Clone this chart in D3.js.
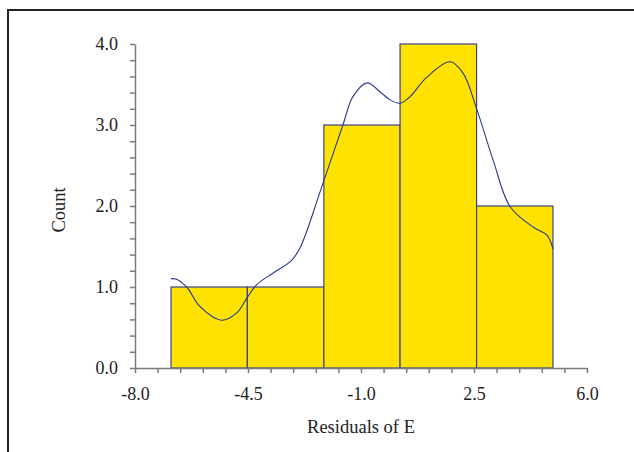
<!DOCTYPE html>
<html>
<head>
<meta charset="utf-8">
<script src="https://cdn.jsdelivr.net/npm/d3@7"></script>
<style>
  body { margin: 0; background: #fff; }
  svg { display: block; }
</style>
</head>
<body>
<div class="container"></div>
<script>
const WIDTH = 634;
const HEIGHT = 452;
const FONT = '"Liberation Serif", "Times New Roman", serif';

// histogram bins (edges and counts)
var binEdges = [-6.885, -4.52, -2.15, 0.21, 2.58, 4.945];
var binCounts = [1, 1, 3, 4, 2];

// density curve
var curveX = [-6.885, -6.74, -6.40, -5.99, -5.32, -4.85, -4.54, -4.23, -3.73, -3.15, -2.89,
              -2.18, -1.56, -1.25, -0.81, -0.41, -0.10, 0.21, 0.52, 1.04, 1.76, 2.16,
              2.59, 3.09, 3.62, 4.33, 4.76, 4.945];
var curveY = [1.10, 1.10, 1.00, 0.76, 0.59, 0.68, 0.86, 1.03, 1.17, 1.33, 1.48,
              2.28, 3.00, 3.35, 3.52, 3.41, 3.31, 3.27, 3.35, 3.59, 3.78, 3.64,
              3.19, 2.57, 1.99, 1.74, 1.64, 1.47];

var xTicks = [-8.0, -4.5, -1.0, 2.5, 6.0];
var yTicks = [0.0, 1.0, 2.0, 3.0, 4.0];

var svg = d3.select(".container")
    .append("svg")
    .attr("width", WIDTH)
    .attr("height", HEIGHT);

// outer frame
svg.append("rect")
    .attr("x", 8).attr("y", 10)
    .attr("width", WIDTH).attr("height", HEIGHT)
    .attr("fill", "none")
    .attr("stroke", "#222")
    .attr("stroke-width", 2);

var x = d3.scaleLinear().domain([-8, 6]).range([135, 587]);
var y = d3.scaleLinear().domain([0, 4]).range([368, 44]);

var bins = binCounts.map(function(c, i) {
    return {x0: binEdges[i], x1: binEdges[i + 1], count: c};
});

svg.selectAll(".bar")
    .data(bins)
    .enter().append("rect")
    .attr("class", "bar")
    .attr("x", function(d) { return x(d.x0); })
    .attr("y", function(d) { return y(d.count); })
    .attr("width", function(d) { return x(d.x1) - x(d.x0); })
    .attr("height", function(d) { return y(0) - y(d.count); })
    .attr("fill", "#ffe200")
    .attr("stroke", "#3a438a")
    .attr("stroke-width", 1.2);

var pts = curveX.map(function(v, i) { return [v, curveY[i]]; });
var line = d3.line()
    .x(function(d) { return x(d[0]); })
    .y(function(d) { return y(d[1]); })
    .curve(d3.curveCatmullRom.alpha(0.5));

svg.append("path")
    .attr("d", line(pts))
    .attr("fill", "none")
    .attr("stroke", "#2b3990")
    .attr("stroke-width", 1.1);

// axes, minor ticks every 0.7 / 0.2 with labels on the majors
function majorLabel(list) {
    return function(d) {
        var m = list.find(function(t) { return Math.abs(t - d) < 1e-6; });
        return m === undefined ? "" : m.toFixed(1);
    };
}

var xMinor = d3.range(0, 21).map(function(i) { return -8 + i * 0.7; });
var xAxis = d3.axisBottom(x).tickValues(xMinor).tickSize(5)
    .tickFormat(majorLabel(xTicks))
    .tickSizeOuter(0).tickPadding(14);

var yMinor = d3.range(0, 21).map(function(i) { return i * 0.2; });
var yAxis = d3.axisLeft(y).tickValues(yMinor).tickSize(5)
    .tickFormat(majorLabel(yTicks))
    .tickSizeOuter(0).tickPadding(12);

svg.append("g")
    .attr("class", "x axis")
    .attr("transform", "translate(0,368)")
    .call(xAxis)
    .attr("font-family", FONT)
    .attr("font-size", 18);

svg.append("g")
    .attr("class", "y axis")
    .attr("transform", "translate(135,0)")
    .call(yAxis)
    .attr("font-family", FONT)
    .attr("font-size", 18);

svg.selectAll(".axis path, .axis line")
    .attr("stroke", "#7a7a7a")
    .attr("stroke-width", 1.5);

svg.selectAll(".axis text")
    .attr("fill", "#222");

svg.append("text")
    .attr("x", 361).attr("y", 433)
    .attr("text-anchor", "middle")
    .attr("font-family", FONT)
    .attr("font-size", 18.5)
    .attr("fill", "#222")
    .text("Residuals of E");

svg.append("text")
    .attr("transform", "translate(65,210) rotate(-90)")
    .attr("text-anchor", "middle")
    .attr("font-family", FONT)
    .attr("font-size", 18.5)
    .attr("fill", "#222")
    .text("Count");
</script>
</body>
</html>
